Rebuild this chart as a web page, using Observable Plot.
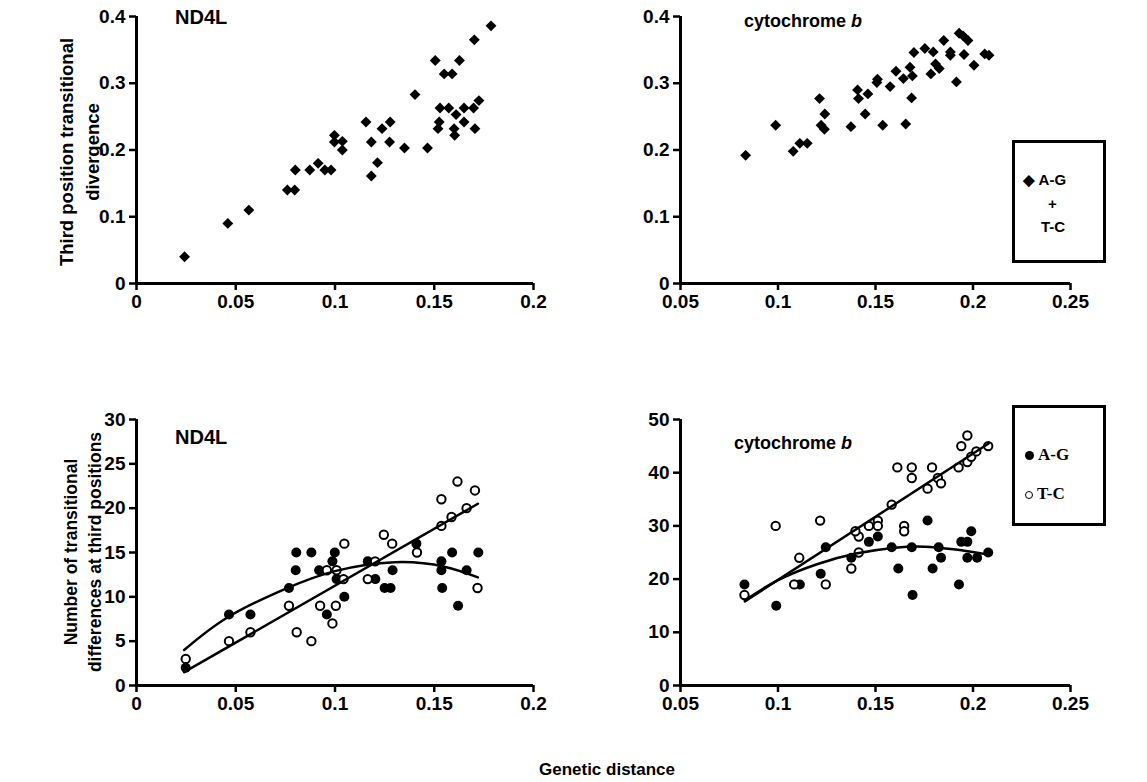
<!DOCTYPE html>
<html>
<head>
<meta charset="utf-8">
<script src="https://cdn.jsdelivr.net/npm/d3@7"></script>
<script src="https://cdn.jsdelivr.net/npm/@observablehq/plot@0.6"></script>
<style>
  html, body { margin: 0; padding: 0; background: #fff; }
  #root { position: relative; width: 1147px; height: 782px; overflow: hidden; background: #fff;
          font-family: "Liberation Sans", Arial, sans-serif; font-weight: bold; color: #000; }
  .abs { position: absolute; white-space: nowrap; }
  .panel svg { overflow: visible; }
  .legend { position: absolute; border: 3px solid #000; box-sizing: border-box; background: #fff; }
</style>
</head>
<body>
<div id="root"></div>
<script>
// ---------- data ----------
// Top-left: ND4L, third position transitional divergence (A-G + T-C)
const ndTopX = [0.0242, 0.046, 0.0566, 0.076, 0.0797, 0.080, 0.0873, 0.0915, 0.0949, 0.098, 0.0997, 0.0997, 0.1037, 0.1037,
  0.1156, 0.1183, 0.1183, 0.1214, 0.1237, 0.1278, 0.1275, 0.135, 0.1403, 0.1466, 0.1505, 0.1529, 0.1525, 0.1519, 0.155,
  0.159, 0.1573, 0.161, 0.160, 0.1603, 0.1627, 0.165, 0.165, 0.1698, 0.1705, 0.1725, 0.1702, 0.1786];
const ndTopY = [0.04, 0.09, 0.11, 0.14, 0.14, 0.17, 0.17, 0.18, 0.17, 0.17, 0.222, 0.212, 0.213, 0.20,
  0.242, 0.212, 0.161, 0.181, 0.232, 0.242, 0.212, 0.203, 0.283, 0.203, 0.334, 0.263, 0.242, 0.232, 0.314,
  0.314, 0.263, 0.253, 0.232, 0.222, 0.334, 0.263, 0.242, 0.263, 0.232, 0.274, 0.365, 0.386];

// Top-right: cytochrome b
const cytTopX = [0.0834, 0.0988, 0.1078, 0.1112, 0.115, 0.1213, 0.124, 0.1221, 0.1238, 0.1374, 0.1408, 0.1413, 0.1461,
  0.1447, 0.151, 0.1507, 0.1537, 0.1575, 0.1605, 0.1643, 0.1655, 0.1677, 0.1689, 0.1685, 0.1697, 0.1753, 0.1796, 0.1784,
  0.1808, 0.1827, 0.185, 0.1884, 0.1884, 0.1915, 0.1929, 0.1949, 0.1974, 0.1954, 0.2005, 0.206, 0.2082];
const cytTopY = [0.192, 0.237, 0.198, 0.210, 0.210, 0.277, 0.254, 0.237, 0.231, 0.235, 0.290, 0.277, 0.284,
  0.254, 0.306, 0.301, 0.237, 0.295, 0.318, 0.307, 0.239, 0.324, 0.311, 0.278, 0.346, 0.352, 0.347, 0.314,
  0.329, 0.322, 0.364, 0.347, 0.342, 0.302, 0.375, 0.371, 0.364, 0.343, 0.327, 0.344, 0.342];

// Bottom-left: ND4L, number of transitional differences
const ndAGx = [0.0248, 0.0466, 0.0574, 0.0768, 0.0802, 0.0805, 0.0881, 0.092, 0.0959, 0.0987, 0.0999, 0.1008, 0.1047,
  0.1165, 0.1203, 0.125, 0.128, 0.129, 0.141, 0.1536, 0.1536, 0.154, 0.159, 0.162, 0.1663, 0.1722];
const ndAGy = [2, 8, 8, 11, 13, 15, 15, 13, 8, 14, 15, 12, 10, 14, 12, 11, 11, 13, 16, 14, 13, 11, 15, 9, 13, 15];
const ndTCx = [0.0248, 0.0466, 0.0574, 0.0768, 0.0807, 0.0881, 0.0925, 0.0959, 0.0987, 0.1004, 0.1008, 0.1043, 0.1047,
  0.1165, 0.1202, 0.1246, 0.1288, 0.1413, 0.1536, 0.1536, 0.1587, 0.1617, 0.1663, 0.1705, 0.1718];
const ndTCy = [3, 5, 6, 9, 6, 5, 9, 13, 7, 9, 13, 12, 16, 12, 14, 17, 16, 15, 21, 18, 19, 23, 20, 22, 11];
// trend lines
const ndAGfitX = [0.024, 0.046, 0.075, 0.1, 0.13, 0.155, 0.172];
const ndAGfitY = [4.0, 7.7, 10.9, 12.9, 13.9, 13.4, 12.2];
const ndTCfitX = [0.024, 0.172];
const ndTCfitY = [1.5, 20.5];

// Bottom-right: cytochrome b
const cytAGx = [0.0828, 0.0991, 0.1112, 0.1219, 0.1245, 0.1376, 0.1466, 0.1512, 0.1583, 0.1617, 0.1686, 0.169, 0.1767,
  0.1793, 0.1824, 0.1836, 0.1928, 0.194, 0.1971, 0.1971, 0.1991, 0.2021, 0.2078];
const cytAGy = [19, 15, 19, 21, 26, 24, 27, 28, 26, 22, 26, 17, 31, 22, 26, 24, 19, 27, 27, 24, 29, 24, 25];
const cytTCx = [0.0828, 0.0988, 0.1083, 0.1109, 0.1216, 0.1245, 0.1376, 0.1414, 0.1414, 0.1397, 0.1466, 0.1512, 0.1512,
  0.1583, 0.1612, 0.1647, 0.1647, 0.1686, 0.1686, 0.1767, 0.179, 0.182, 0.1836, 0.1926, 0.194, 0.1971, 0.1971, 0.1991,
  0.2017, 0.2078];
const cytTCy = [17, 30, 19, 24, 31, 19, 22, 28, 25, 29, 30, 31, 30, 34, 41, 30, 29, 41, 39, 37, 41, 39, 38, 41, 45, 47,
  42, 43, 44, 45];
const cytAGfitX = [0.083, 0.1, 0.12, 0.14, 0.16, 0.175, 0.19, 0.208];
const cytAGfitY = [16.0, 19.8, 22.8, 24.8, 25.9, 26.1, 25.6, 24.6];
const cytTCfitX = [0.083, 0.208];
const cytTCfitY = [15.8, 45.5];

// axis ticks
const xTicksND = [0, 0.05, 0.1, 0.15, 0.2];
const xTicksCyt = [0.05, 0.1, 0.15, 0.2, 0.25];
const yTicksTop = [0, 0.1, 0.2, 0.3, 0.4];
const yTicksND = [0, 5, 10, 15, 20, 25, 30];
const yTicksCyt = [0, 10, 20, 30, 40, 50];

// ---------- helpers ----------
const zip = (xs, ys) => xs.map((x, i) => ({x, y: ys[i]}));
const root = document.getElementById("root");
const fmt = d => String(d);

function panel({left, top, width, height, mL, mR, mT, mB, xDom, yDom, xTicks, yTicks, marks}) {
  const chart = Plot.plot({
    width, height,
    marginLeft: mL, marginRight: mR, marginTop: mT, marginBottom: mB,
    x: {domain: xDom}, y: {domain: yDom},
    style: {fontFamily: '"Liberation Sans", Arial, sans-serif', fontWeight: "bold", fontSize: "19px", color: "#000", background: "transparent", overflow: "visible"},
    marks: [
      ...marks,
      Plot.ruleX([xDom[0]], {strokeWidth: 3, stroke: "#000"}),
      Plot.ruleY([yDom[0]], {strokeWidth: 3, stroke: "#000"}),
      Plot.axisX({ticks: xTicks, tickFormat: fmt, tickSize: 7, tickPadding: 4, strokeWidth: 2.5, fontSize: 19, fontWeight: "bold", label: null}),
      Plot.axisY({ticks: yTicks, tickFormat: fmt, tickSize: 7, tickPadding: 4, strokeWidth: 2.5, fontSize: 19, fontWeight: "bold", label: null})
    ]
  });
  const wrap = document.createElement("div");
  wrap.className = "abs panel";
  wrap.style.left = left + "px";
  wrap.style.top = top + "px";
  wrap.appendChild(chart);
  root.appendChild(wrap);
}

function addText(html, left, top, size, extra = "") {
  const d = document.createElement("div");
  d.className = "abs";
  d.style.left = left + "px";
  d.style.top = top + "px";
  d.style.fontSize = size + "px";
  d.style.cssText += extra;
  d.innerHTML = html;
  root.appendChild(d);
  return d;
}

// ---------- panels ----------
const diamondR = 4.9;
// top-left
panel({left: 0, top: 0, width: 560, height: 320, mL: 136, mR: 27, mT: 16, mB: 37,
  xDom: [0, 0.2], yDom: [0, 0.4], xTicks: xTicksND, yTicks: yTicksTop,
  marks: [Plot.dot(zip(ndTopX, ndTopY), {x: "x", y: "y", symbol: "diamond2", r: diamondR, fill: "#000", stroke: null})]});

// top-right
panel({left: 560, top: 0, width: 560, height: 320, mL: 120, mR: 50, mT: 16, mB: 37,
  xDom: [0.05, 0.25], yDom: [0, 0.4], xTicks: xTicksCyt, yTicks: yTicksTop,
  marks: [Plot.dot(zip(cytTopX, cytTopY), {x: "x", y: "y", symbol: "diamond2", r: diamondR, fill: "#000", stroke: null})]});

// bottom-left
panel({left: 0, top: 380, width: 560, height: 340, mL: 136, mR: 27, mT: 39, mB: 35,
  xDom: [0, 0.2], yDom: [0, 30], xTicks: xTicksND, yTicks: yTicksND,
  marks: [
    Plot.dot(zip(ndAGx, ndAGy), {x: "x", y: "y", r: 5, fill: "#000", stroke: null}),
    Plot.dot(zip(ndTCx, ndTCy), {x: "x", y: "y", r: 4.2, fill: "#fff", stroke: "#000", strokeWidth: 2}),
    Plot.line(zip(ndAGfitX, ndAGfitY), {x: "x", y: "y", curve: "natural", stroke: "#000", strokeWidth: 2.5}),
    Plot.line(zip(ndTCfitX, ndTCfitY), {x: "x", y: "y", stroke: "#000", strokeWidth: 2.5})
  ]});

// bottom-right
panel({left: 560, top: 380, width: 560, height: 340, mL: 120, mR: 50, mT: 39, mB: 35,
  xDom: [0.05, 0.25], yDom: [0, 50], xTicks: xTicksCyt, yTicks: yTicksCyt,
  marks: [
    Plot.dot(zip(cytAGx, cytAGy), {x: "x", y: "y", r: 5, fill: "#000", stroke: null}),
    Plot.dot(zip(cytTCx, cytTCy), {x: "x", y: "y", r: 4.2, fill: "#fff", stroke: "#000", strokeWidth: 2}),
    Plot.line(zip(cytAGfitX, cytAGfitY), {x: "x", y: "y", curve: "natural", stroke: "#000", strokeWidth: 2.5}),
    Plot.line(zip(cytTCfitX, cytTCfitY), {x: "x", y: "y", stroke: "#000", strokeWidth: 2.5})
  ]});

// ---------- panel titles ----------
addText("ND4L", 175, 6, 20);
addText("cytochrome <i>b</i>", 744, 11, 18);
addText("ND4L", 175, 426, 20);
addText("cytochrome <i>b</i>", 734, 433, 18);

// ---------- axis titles ----------
function vLabel(lines, cx, cy, size, lh) {
  const d = document.createElement("div");
  d.className = "abs";
  d.style.left = cx + "px";
  d.style.top = cy + "px";
  d.style.fontSize = size + "px";
  d.style.textAlign = "center";
  d.style.lineHeight = lh + "px";
  d.style.transform = "translate(-50%, -50%) rotate(-90deg)";
  d.innerHTML = lines.join("<br>");
  root.appendChild(d);
}
vLabel(["Third position transitional", "divergence"], 80, 152, 18.5, 26);
vLabel(["Number of transitional", "differences at third positions"], 83, 552, 17.5, 24);
addText("Genetic distance", 607, 760, 17, "transform: translateX(-50%);");

// ---------- legends ----------
const lg1 = document.createElement("div");
lg1.className = "legend";
lg1.style.cssText += "left:1012px; top:140px; width:94px; height:123px; font-size:15px;";
lg1.innerHTML = `
  <div class="abs" style="left:8px; top:28px;"><span style="font-size:15px;">&#9670;</span> A-G</div>
  <div class="abs" style="left:33px; top:52px;">+</div>
  <div class="abs" style="left:26px; top:75px;">T-C</div>`;
root.appendChild(lg1);

const lg2 = document.createElement("div");
lg2.className = "legend";
lg2.style.cssText += "left:1012px; top:405px; width:94px; height:121px; font-family:'Liberation Serif','Times New Roman',serif; font-size:17px;";
lg2.innerHTML = `
  <div class="abs" style="left:10px; top:37px;"><span style="display:inline-block;width:9px;height:9px;border-radius:50%;background:#000;margin-right:4px;"></span>A-G</div>
  <div class="abs" style="left:10px; top:76px;"><span style="display:inline-block;width:6px;height:6px;border-radius:50%;border:1.6px solid #000;margin-right:4px;"></span>T-C</div>`;
root.appendChild(lg2);
</script>
</body>
</html>
